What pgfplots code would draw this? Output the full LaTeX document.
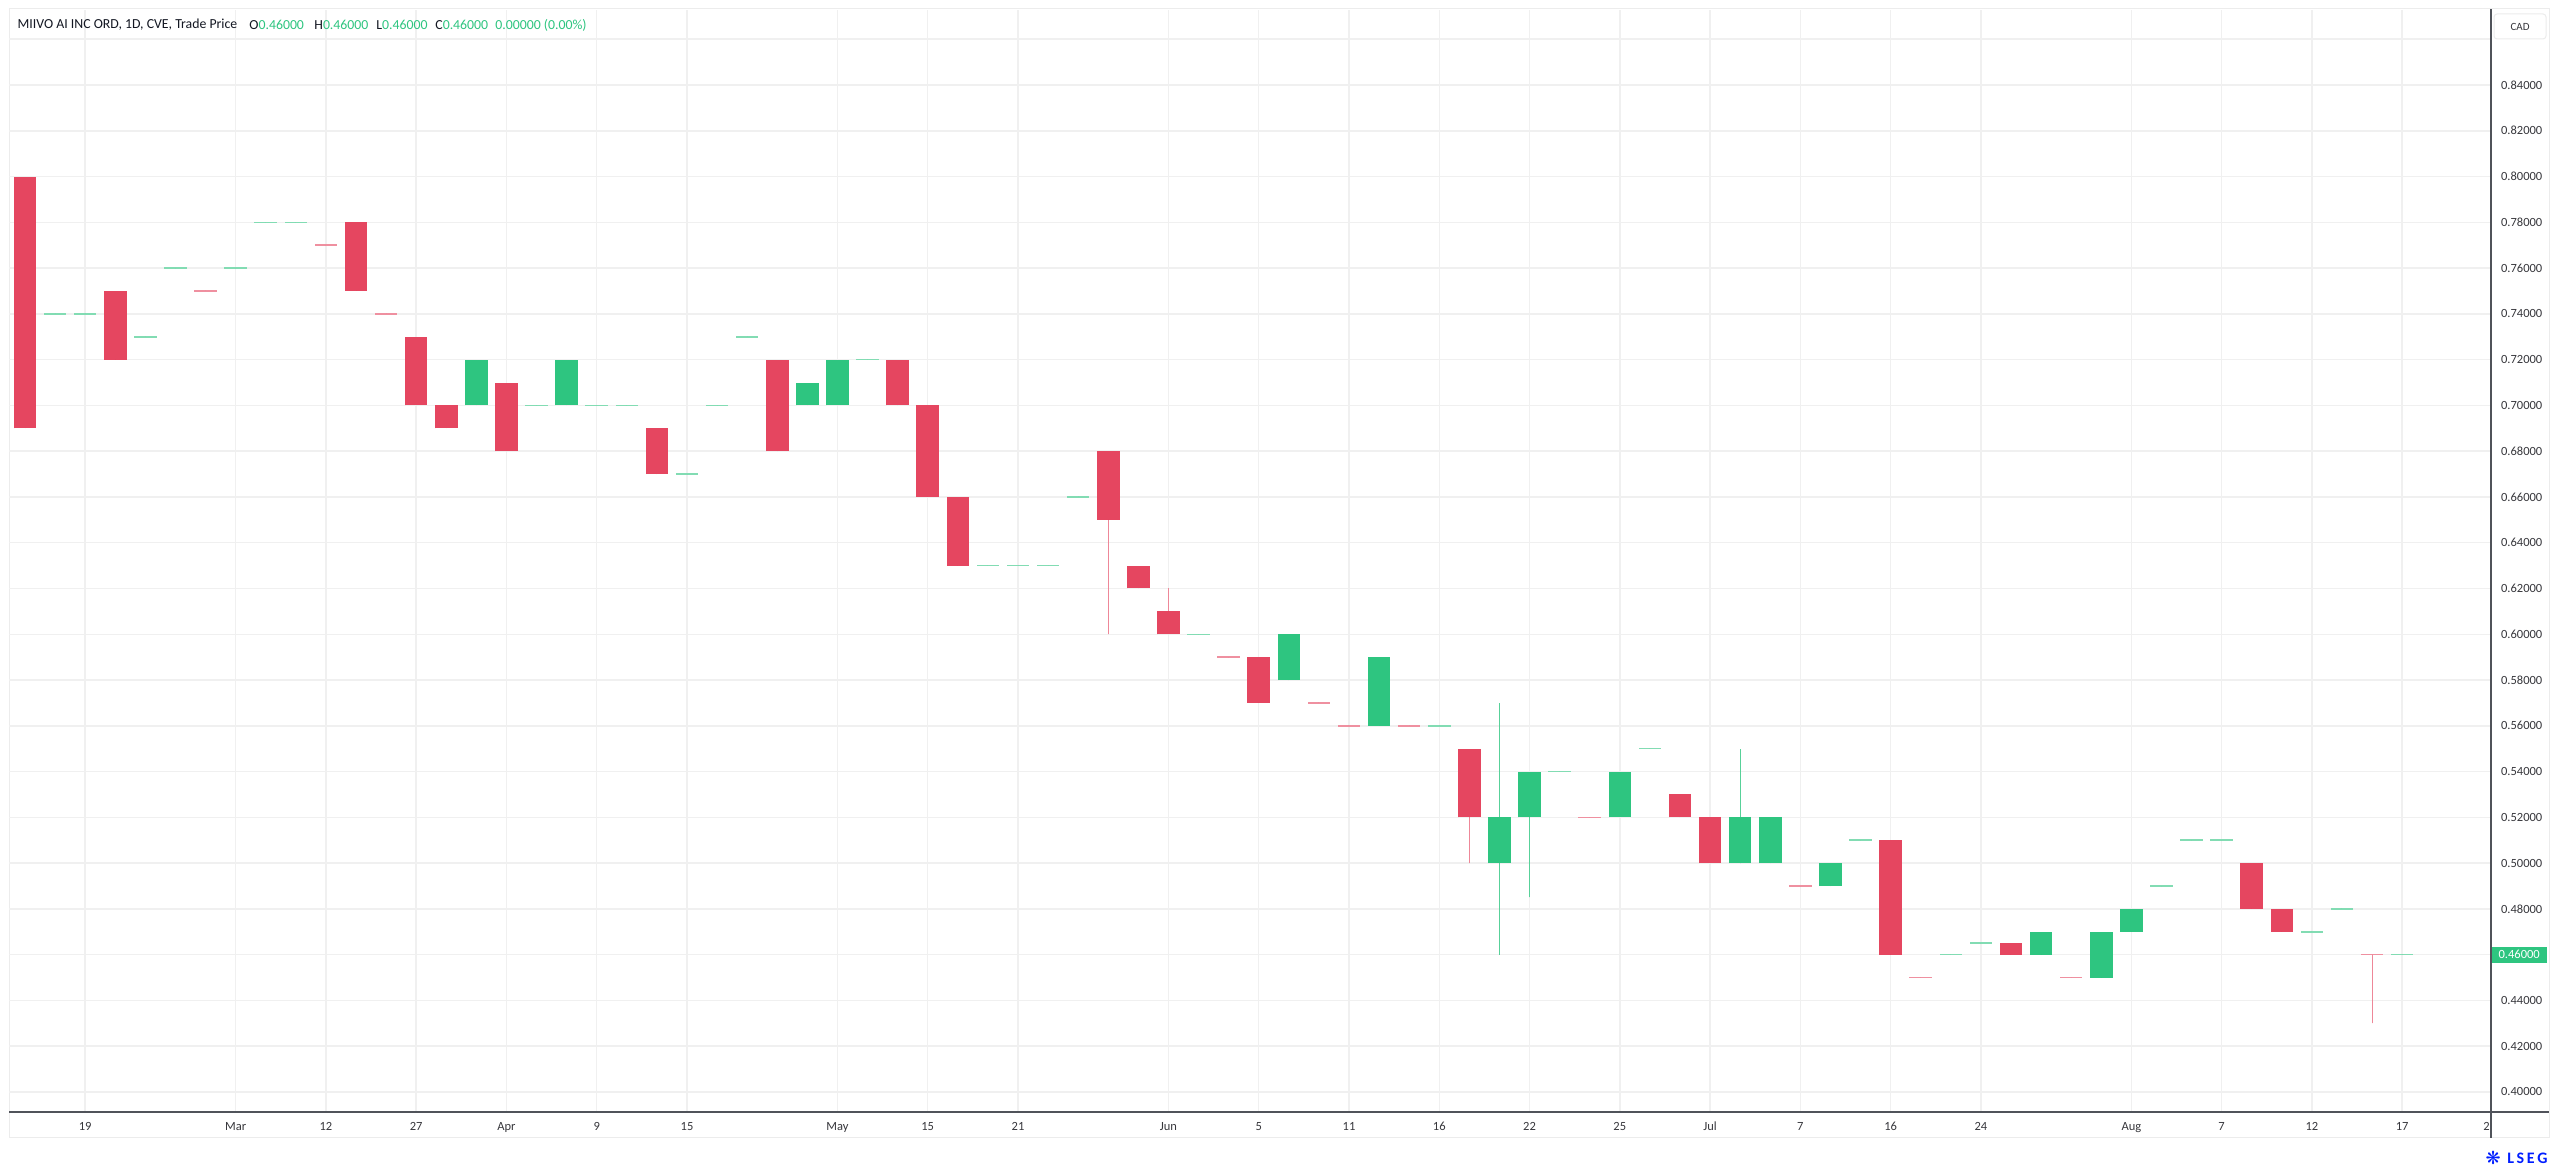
\documentclass[border=0pt]{standalone}
\usepackage{pgfplots}
\pgfplotsset{compat=1.18}
\usepackage{pgfplotstable}
\usepackage{fontspec}
\setmainfont{Carlito}
\newfontfamily\dejavu{DejaVu Sans}
\definecolor{cred}{RGB}{229,70,96}
\definecolor{cgreen}{RGB}{46,197,128}
\definecolor{gridc}{RGB}{240,240,240}
\definecolor{axisc}{RGB}{80,83,90}
\definecolor{tickc}{RGB}{55,55,60}
\definecolor{titlec}{RGB}{19,23,34}
\definecolor{framec}{RGB}{236,236,236}
\definecolor{lsegblue}{RGB}{0,30,255}

% bodies: x = bar index, lo/hi = body bottom/top
\pgfplotstableread{
x lo hi
15 0.70 0.72
18 0.70 0.72
26 0.70 0.71
27 0.70 0.72
42 0.58 0.60
45 0.56 0.59
49 0.50 0.52
50 0.52 0.54
53 0.52 0.54
57 0.50 0.52
58 0.50 0.52
60 0.49 0.50
67 0.46 0.47
69 0.45 0.47
70 0.47 0.48
}\greenbodies
\pgfplotstableread{
x lo hi
0 0.69 0.80
3 0.72 0.75
11 0.75 0.78
13 0.70 0.73
14 0.69 0.70
16 0.68 0.71
21 0.67 0.69
25 0.68 0.72
29 0.70 0.72
30 0.66 0.70
31 0.63 0.66
36 0.65 0.68
37 0.62 0.63
38 0.60 0.61
41 0.57 0.59
48 0.52 0.55
55 0.52 0.53
56 0.50 0.52
62 0.46 0.51
66 0.46 0.465
74 0.48 0.50
75 0.47 0.48
}\redbodies
% wicks: low / high
\pgfplotstableread{
x lo hi
49 0.46 0.57
50 0.485 0.52
57 0.50 0.55
}\greenwicks
\pgfplotstableread{
x lo hi
36 0.60 0.65
38 0.61 0.62
48 0.50 0.52
78 0.43 0.46
}\redwicks
% bars with open = close
\pgfplotstableread{
x y
1 0.74
2 0.74
4 0.73
5 0.76
7 0.76
8 0.78
9 0.78
17 0.70
19 0.70
20 0.70
22 0.67
23 0.70
24 0.73
28 0.72
32 0.63
33 0.63
34 0.63
35 0.66
39 0.60
47 0.56
51 0.54
54 0.55
61 0.51
64 0.46
65 0.465
71 0.49
72 0.51
73 0.51
76 0.47
77 0.48
79 0.46
}\greendoji
\pgfplotstableread{
x y
6 0.75
10 0.77
12 0.74
40 0.59
43 0.57
44 0.56
46 0.56
52 0.52
59 0.49
63 0.45
68 0.45
78 0.46
}\reddoji

\pgfplotsset{candle/.style={only marks, mark size=0pt, mark options={draw=none, fill=none}, forget plot}}

\begin{document}
\begin{tikzpicture}
\useasboundingbox (0,0) rectangle (1280pt,585pt);
\fill[white] (0,0) rectangle (1280pt,585pt);
\draw[framec, line width=0.5pt] (4.5pt,16pt) rectangle (1274.5pt,580.5pt);
\begin{axis}[
  at={(4.5pt,29pt)}, anchor=south west,
  scale only axis, width=1241pt, height=551pt,
  xmin=-0.532, xmax=81.954, ymin=0.39126, ymax=0.87278,
  axis line style={draw=none},
  tick style={draw=none},
  grid=major,
  major grid style={draw=gridc, line width=0.75pt},
  ytick={0.40,0.42,0.44,0.48,0.50,0.52,0.54,0.56,0.58,0.60,0.62,0.64,0.66,0.68,0.70,0.72,0.74,0.76,0.78,0.80,0.82,0.84,0.86},
  yticklabels={0.40000,0.42000,0.44000,0.48000,0.50000,0.52000,0.54000,0.56000,0.58000,0.60000,0.62000,0.64000,0.66000,0.68000,0.70000,0.72000,0.74000,0.76000,0.78000,0.80000,0.82000,0.84000,{}},
  yticklabel pos=right,
  xtick={2,7,10,13,16,19,22,27,30,33,38,41,44,47,50,53,56,59,62,65,70,73,76,79},
  xticklabels={19,Mar,12,27,Apr,9,15,May,15,21,Jun,5,11,16,22,25,Jul,7,16,24,Aug,7,12,17},
  ticklabel style={font=\fontsize{6.25}{7}\selectfont, text=tickc},
  yticklabel style={anchor=west, xshift=1.5pt},
  xticklabel style={anchor=north, yshift=-1.5pt},
  extra y ticks={0.46},
  extra y tick labels={0.46000},
  extra y tick style={grid=major, tick label style={fill=cgreen, text=white, xshift=-1.35pt, inner xsep=3.45pt, inner ysep=0pt, minimum height=8pt}},
  extra x ticks={81.8},
  extra x tick labels={2},
  extra x tick style={grid=none},
]
% wicks
\addplot[candle,
  error bars/.cd, y dir=plus, y explicit, error mark=none,
  error bar style={draw=cgreen!80, line width=0.55pt}]
  table[x=x, y=lo, y error expr=\thisrow{hi}-\thisrow{lo}] {\greenwicks};
\addplot[candle,
  error bars/.cd, y dir=plus, y explicit, error mark=none,
  error bar style={draw=cred!65, line width=0.55pt}]
  table[x=x, y=lo, y error expr=\thisrow{hi}-\thisrow{lo}] {\redwicks};
% bodies
\addplot[candle,
  error bars/.cd, y dir=plus, y explicit, error mark=none,
  error bar style={draw=cgreen, line width=11.25pt}]
  table[x=x, y=lo, y error expr=\thisrow{hi}-\thisrow{lo}] {\greenbodies};
\addplot[candle,
  error bars/.cd, y dir=plus, y explicit, error mark=none,
  error bar style={draw=cred, line width=11.25pt}]
  table[x=x, y=lo, y error expr=\thisrow{hi}-\thisrow{lo}] {\redbodies};
% flat bars
\addplot[candle,
  error bars/.cd, x dir=both, x fixed=0.375, error mark=none,
  error bar style={draw=cgreen!60, line width=0.75pt}]
  table[x=x, y=y] {\greendoji};
\addplot[candle,
  error bars/.cd, x dir=both, x fixed=0.375, error mark=none,
  error bar style={draw=cred!60, line width=0.75pt}]
  table[x=x, y=y] {\reddoji};
\end{axis}
% axis lines
\draw[axisc, line width=0.75pt] (4.5pt,29pt) -- (1274.5pt,29pt);
\draw[axisc, line width=0.75pt] (1245.5pt,16pt) -- (1245.5pt,580.5pt);
% title line
\node[anchor=west, inner sep=0pt, font=\fontsize{6.9}{8}\selectfont, text=titlec] at (8.65pt,572.5pt) {MIIVO AI INC ORD, 1D, CVE, Trade Price};
\node[anchor=west, inner sep=0pt, font=\fontsize{6.9}{8}\selectfont, text=titlec] at (124.5pt,572.5pt) {O\textcolor{cgreen}{0.46000}};
\node[anchor=west, inner sep=0pt, font=\fontsize{6.9}{8}\selectfont, text=titlec] at (157pt,572.5pt) {H\textcolor{cgreen}{0.46000}};
\node[anchor=west, inner sep=0pt, font=\fontsize{6.9}{8}\selectfont, text=titlec] at (188pt,572.5pt) {L\textcolor{cgreen}{0.46000}};
\node[anchor=west, inner sep=0pt, font=\fontsize{6.9}{8}\selectfont, text=titlec] at (217.5pt,572.5pt) {C\textcolor{cgreen}{0.46000}};
\node[anchor=west, inner sep=0pt, font=\fontsize{6.9}{8}\selectfont, text=cgreen] at (247.5pt,572.5pt) {0.00000 (0.00\%)};
% currency box
\draw[framec, line width=0.5pt, fill=white, rounded corners=1.5pt] (1247pt,565.5pt) rectangle (1273pt,578pt);
\node[font=\fontsize{5.5}{6.5}\selectfont, text=tickc] at (1260pt,571.75pt) {CAD};
% logo
\node[anchor=east, inner sep=0pt, font=\fontsize{8}{9}\selectfont\bfseries, text=lsegblue] at (1274pt,6pt) {L\,S\,E\,G};
\node[anchor=east, inner sep=0pt, font=\dejavu\fontsize{9}{10}\selectfont, text=lsegblue] at (1250.5pt,6pt) {❋};
\end{tikzpicture}
\end{document}
